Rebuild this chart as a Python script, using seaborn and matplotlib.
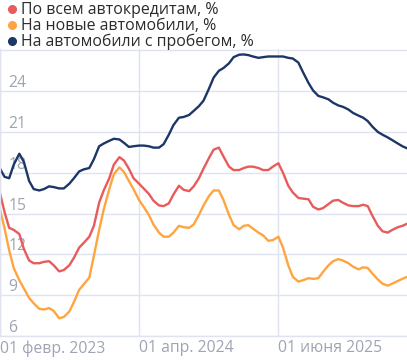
import pandas as pd
import matplotlib.pyplot as plt
from matplotlib.lines import Line2D
import seaborn as sns

# semimonthly dates
dates = [
    "2023-02-01", "2023-02-15", "2023-03-01", "2023-03-15", "2023-04-01", "2023-04-15",
    "2023-05-01", "2023-05-15", "2023-06-01", "2023-06-15", "2023-07-01", "2023-07-15",
    "2023-08-01", "2023-08-15", "2023-09-01", "2023-09-15", "2023-10-01", "2023-10-15",
    "2023-11-01", "2023-11-15", "2023-12-01", "2023-12-15",
    "2024-01-01", "2024-01-15", "2024-02-01", "2024-02-15", "2024-03-01", "2024-03-15",
    "2024-04-01", "2024-04-15", "2024-05-01", "2024-05-15", "2024-06-01", "2024-06-15",
    "2024-07-01", "2024-07-15", "2024-08-01", "2024-08-15", "2024-09-01", "2024-09-15",
    "2024-10-01", "2024-10-15", "2024-11-01", "2024-11-15", "2024-12-01", "2024-12-15",
    "2025-01-01", "2025-01-15", "2025-02-01", "2025-02-15", "2025-03-01", "2025-03-15",
    "2025-04-01", "2025-04-15", "2025-05-01", "2025-05-15", "2025-06-01", "2025-06-15",
    "2025-07-01", "2025-07-15", "2025-08-01", "2025-08-15", "2025-09-01", "2025-09-15",
    "2025-10-01", "2025-10-15", "2025-11-01", "2025-11-15", "2025-12-01", "2025-12-15",
    "2026-01-01", "2026-01-15", "2026-02-01", "2026-02-15", "2026-03-01", "2026-03-15",
    "2026-04-01", "2026-04-15", "2026-05-01", "2026-05-15", "2026-06-01", "2026-06-15",
    "2026-06-29",
]

all_loans = [
    16.5, 15.1, 13.95, 13.8, 13.5, 12.4, 11.55, 11.35, 11.35, 11.45, 11.5, 11.2,
    10.75, 10.85, 11.2, 11.75, 12.5, 12.85, 13.3, 14.1, 15.8, 16.7,
    17.6, 18.6, 19.15, 18.9, 18.3, 17.6, 17.2, 16.85, 16.45, 15.95, 15.6, 15.55,
    15.75, 16.4, 17.05, 16.75, 16.65, 17.0, 17.6, 18.3, 19.1, 19.7, 19.85, 19.2,
    18.45, 18.2, 18.2, 18.35, 18.45, 18.45, 18.35, 18.2, 18.2, 18.45, 18.7, 18.0,
    17.05, 16.55, 16.15, 16.1, 16.05, 15.5, 15.3, 15.4, 15.7, 15.95, 16.0, 15.8,
    15.6, 15.55, 15.55, 15.65, 15.55, 14.85, 14.1, 13.7, 13.6, 13.8, 14.0, 14.1,
    14.25,
]

new_cars = [
    15.3, 13.9, 12.3, 11.0, 10.1, 9.5, 8.8, 8.4, 8.0, 7.95, 8.05, 7.85,
    7.3, 7.4, 7.8, 8.5, 9.4, 9.8, 10.3, 11.9, 13.8, 15.3,
    16.8, 17.9, 18.4, 18.05, 17.4, 16.8, 16.0, 15.5, 14.9, 14.2, 13.6, 13.3,
    13.3, 13.6, 14.1, 14.0, 13.95, 14.2, 14.9, 15.6, 16.3, 16.7, 16.7, 16.0,
    14.9, 14.15, 13.85, 14.1, 14.15, 13.9, 13.6, 13.4, 13.0, 13.05, 13.3, 12.5,
    11.2, 10.35, 10.0, 10.1, 10.25, 10.2, 10.25, 10.7, 11.2, 11.5, 11.65, 11.55,
    11.35, 11.1, 10.9, 11.05, 11.0, 10.6, 10.15, 9.85, 9.7, 9.85, 10.05, 10.2,
    10.35,
]

used_cars = [
    18.3, 17.7, 17.6, 18.6, 19.4, 18.8, 17.4, 16.8, 16.7, 16.8, 17.0, 16.95,
    16.85, 16.85, 17.2, 17.6, 18.1, 18.25, 18.35, 19.0, 19.95, 20.15,
    20.35, 20.5, 20.45, 20.2, 19.9, 19.95, 20.0, 20.0, 19.95, 19.85, 19.85, 20.1,
    20.8, 21.5, 22.05, 22.1, 22.25, 22.55, 22.9, 23.3, 24.2, 25.0, 25.5, 25.7,
    26.05, 26.5, 26.68, 26.7, 26.65, 26.55, 26.45, 26.5, 26.55, 26.55, 26.55, 26.55,
    26.45, 26.4, 26.1, 25.4, 24.6, 24.05, 23.65, 23.55, 23.4, 23.15, 22.95, 22.85,
    22.65, 22.4, 22.2, 22.05, 21.8, 21.4, 21.0, 20.8, 20.6, 20.4, 20.15, 19.95,
    19.8,
]

series_names = [
    "По всем автокредитам, %",
    "На новые автомобили, %",
    "На автомобили с пробегом, %",
]
colors = ["#e85b5b", "#ffa53f", "#1c3766"]

x_ticks = ["2023-02-01", "2024-04-01", "2025-06-01"]
x_tick_labels = ["01 февр. 2023", "01 апр. 2024", "01 июня 2025"]
y_ticks = [6, 9, 12, 15, 18, 21, 24, 27]
y_tick_labels = ["6", "9", "12", "15", "18", "21", "24", ""]

grid_color = "#dfe3f0"
tick_color = "#9ea4b3"

# long form table for seaborn
frames = []
for name, vals in zip(series_names, [all_loans, new_cars, used_cars]):
    frames.append(pd.DataFrame({"date": pd.to_datetime(dates), "value": vals, "series": name}))
df = pd.concat(frames, ignore_index=True)

sns.set_theme(style="whitegrid")
plt.rcParams["font.family"] = ["Open Sans", "DejaVu Sans"]

fig = plt.figure(figsize=(4.07, 3.6), dpi=100)
ax = fig.add_axes([0.0, 24 / 360, 1.0, 287 / 360])

# draw the navy line first so the others sit on top
order = [series_names[2], series_names[0], series_names[1]]
sns.lineplot(data=df, x="date", y="value", hue="series", hue_order=order,
             palette=dict(zip(series_names, colors)), linewidth=1.7,
             legend=False, ax=ax)
for line in ax.get_lines():
    line.set_solid_joinstyle("round")
    line.set_solid_capstyle("round")

ax.set_xlim(pd.Timestamp(dates[0]), pd.Timestamp(dates[-1]))
ax.set_ylim(6, 27.1)
ax.set_xlabel("")
ax.set_ylabel("")

ax.set_xticks(pd.to_datetime(x_ticks))
ax.set_xticklabels(x_tick_labels, ha="left")
ax.set_yticks(y_ticks)
ax.set_yticklabels(y_tick_labels, ha="left", va="bottom")

ax.tick_params(axis="x", length=0, pad=3, labelsize=11.3, labelcolor=tick_color)
ax.tick_params(axis="y", length=0, pad=-6, labelsize=11.3, labelcolor=tick_color)

ax.grid(True, color=grid_color, linewidth=1)
ax.set_facecolor("white")
for side in ["top", "right"]:
    ax.spines[side].set_visible(False)
for side in ["left", "bottom"]:
    ax.spines[side].set_color(grid_color)
    ax.spines[side].set_linewidth(1)

# legend with round markers at the top left
handles = [Line2D([], [], marker="o", linestyle="", markersize=5.5,
                  markerfacecolor=c, markeredgecolor=c) for c in colors]
fig.legend(handles, series_names, loc="upper left", bbox_to_anchor=(-0.008, 1.025),
           frameon=False, fontsize=11.4, handlelength=0.55, handletextpad=0.3,
           labelspacing=0.0, borderpad=0.2, labelcolor="#2b2b2b")

fig.savefig("out.png", dpi=100, facecolor="white")
